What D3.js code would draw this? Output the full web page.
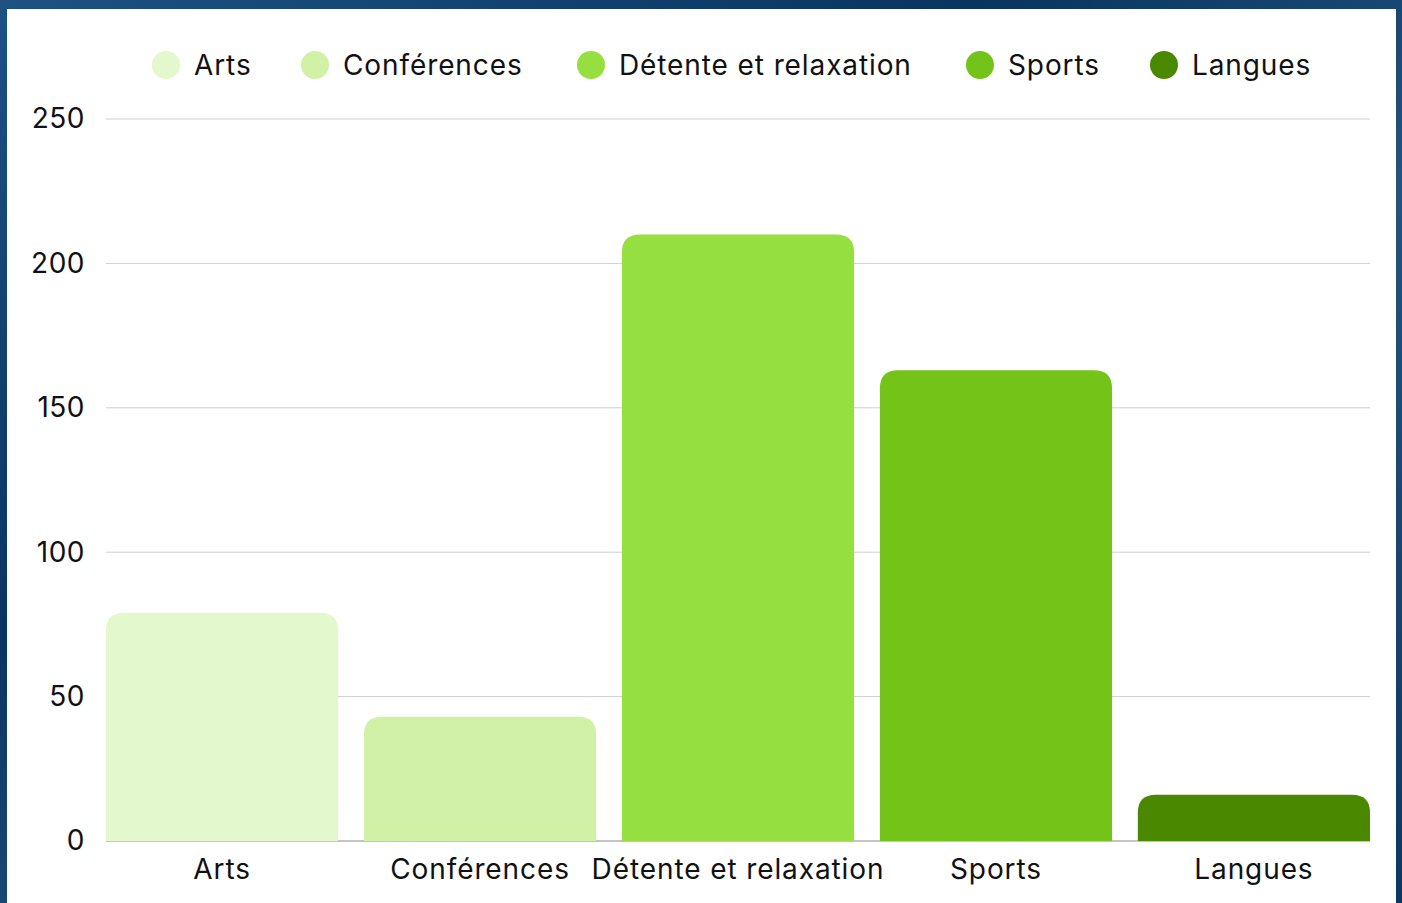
<!DOCTYPE html>
<html>
<head>
<meta charset="utf-8">
<script src="https://cdn.jsdelivr.net/npm/d3@7"></script>
<style>
  body { margin: 0; background: #0b3862; }
  svg { display: block; font-family: "Inter", "Noto Sans", sans-serif; }
</style>
</head>
<body>
<div id="chart"></div>
<script>
// Data
const categories = ["Arts", "Conférences", "Détente et relaxation", "Sports", "Langues"];
const values = [79, 43, 210, 163, 16];
const colors = ["#e3f8cc", "#d0f1a6", "#96df41", "#74c318", "#4a8800"];
const yTicks = [0, 50, 100, 150, 200, 250];

const owidth = 1402, oheight = 903;
const margin = { top: 119, right: 32, bottom: 62, left: 106 };
const width = owidth - margin.left - margin.right;
const height = oheight - margin.top - margin.bottom;

const svg = d3.select("#chart").append("svg")
  .attr("width", owidth)
  .attr("height", oheight);

// Background gradient + white card
const defs = svg.append("defs");
const grad = defs.append("linearGradient").attr("id", "bg")
  .attr("x1", "0%").attr("y1", "0%").attr("x2", "100%").attr("y2", "100%");
grad.append("stop").attr("offset", "0%").attr("stop-color", "#1d5283");
grad.append("stop").attr("offset", "35%").attr("stop-color", "#0a3460");
grad.append("stop").attr("offset", "60%").attr("stop-color", "#22547f");
grad.append("stop").attr("offset", "100%").attr("stop-color", "#0b3862");

svg.append("rect").attr("width", owidth).attr("height", oheight).attr("fill", "url(#bg)");
svg.append("rect")
  .attr("x", 7).attr("y", 9)
  .attr("width", 1389).attr("height", oheight)
  .attr("fill", "#fff");

const g = svg.append("g").attr("transform", `translate(${margin.left},${margin.top})`);

const x = d3.scaleBand().domain(categories).range([0, width]).paddingInner(0.1).paddingOuter(0);
const y = d3.scaleLinear().domain([0, 250]).range([height, 0]);

// Gridlines
g.selectAll(".grid").data(yTicks.slice(1)).join("line")
  .attr("x1", 0).attr("x2", width)
  .attr("y1", d => y(d)).attr("y2", d => y(d))
  .attr("stroke", "#cfcfcf").attr("stroke-width", 1);

// Baseline
g.append("line")
  .attr("x1", 0).attr("x2", width)
  .attr("y1", y(0)).attr("y2", y(0))
  .attr("stroke", "#8a8a8a").attr("stroke-width", 1);

// Bars with rounded top corners
const r = 18;
function barPath(x0, y0, w, h) {
  const rr = Math.min(r, h, w / 2);
  return `M${x0},${y0 + h}V${y0 + rr}Q${x0},${y0} ${x0 + rr},${y0}` +
    `H${x0 + w - rr}Q${x0 + w},${y0} ${x0 + w},${y0 + rr}V${y0 + h}Z`;
}
g.selectAll(".bar").data(categories).join("path")
  .attr("d", (d, i) => barPath(x(d), y(values[i]), x.bandwidth(), y(0) - y(values[i])))
  .attr("fill", (d, i) => colors[i]);

// Y axis labels
const yAxis = g.append("g").call(d3.axisLeft(y).tickValues(yTicks).tickSize(0).tickPadding(21));
yAxis.select(".domain").remove();
yAxis.selectAll("text")
  .attr("font-family", "Inter, 'Noto Sans', sans-serif")
  .attr("font-size", 28).attr("fill", "#111")
  .attr("letter-spacing", 0.5);

// X axis labels
const xAxis = g.append("g").attr("transform", `translate(0,${height})`)
  .call(d3.axisBottom(x).tickSize(0).tickPadding(18));
xAxis.select(".domain").remove();
xAxis.selectAll("text")
  .attr("font-family", "Inter, 'Noto Sans', sans-serif")
  .attr("font-size", 28).attr("fill", "#111")
  .attr("letter-spacing", 0.9);

// Legend
const legendX = [166, 315, 591, 980, 1164];
const legend = svg.append("g");
categories.forEach((c, i) => {
  legend.append("circle")
    .attr("cx", legendX[i]).attr("cy", 65).attr("r", 14)
    .attr("fill", colors[i]);
  legend.append("text")
    .attr("x", legendX[i] + 28).attr("y", 65).attr("dy", "0.35em")
    .attr("font-size", 28).attr("fill", "#111")
    .attr("letter-spacing", 0.9)
    .text(c);
});
</script>
</body>
</html>
